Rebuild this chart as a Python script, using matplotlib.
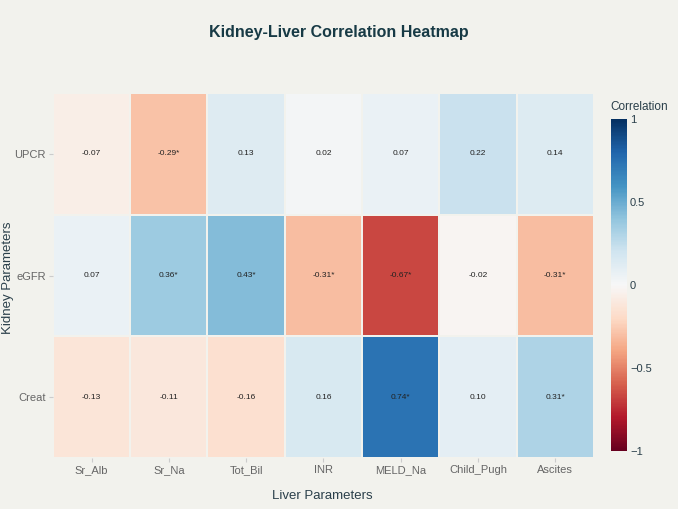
import matplotlib
matplotlib.use("Agg")
import matplotlib.pyplot as plt
import numpy as np

liver = ["Sr_Alb", "Sr_Na", "Tot_Bil", "INR", "MELD_Na", "Child_Pugh", "Ascites"]
kidney = ["UPCR", "eGFR", "Creat"]
upcr = [-0.07, -0.29, 0.13, 0.02, 0.07, 0.22, 0.14]
egfr = [0.07, 0.36, 0.43, -0.31, -0.67, -0.02, -0.31]
creat = [-0.13, -0.11, -0.16, 0.16, 0.74, 0.10, 0.31]
sig_upcr = [0, 1, 0, 0, 0, 0, 0]
sig_egfr = [0, 1, 1, 1, 1, 0, 1]
sig_creat = [0, 0, 0, 0, 1, 0, 1]

vals = np.array([upcr, egfr, creat])
sig = np.array([sig_upcr, sig_egfr, sig_creat])

bg = "#f2f2ed"
plt.rcParams['font.family'] = ['Liberation Sans', 'DejaVu Sans']
fig = plt.figure(figsize=(6.78, 5.09), dpi=100, facecolor=bg)
ax = fig.add_axes([0.078, 0.1, 0.798, 0.717])
ax.set_facecolor(bg)
cmap = plt.get_cmap("RdBu")
mesh = ax.pcolormesh(np.arange(len(liver) + 1) - 0.5, np.arange(len(kidney) + 1) - 0.5, vals,
                     cmap=cmap, vmin=-1, vmax=1, edgecolors=bg, linewidth=0.15)
ax.set_xlim(-0.5, len(liver) - 0.5)
ax.set_ylim(len(kidney) - 0.5, -0.5)
for i in range(len(kidney)):
    for j in range(len(liver)):
        t = f"{vals[i, j]:.2f}" + ("*" if sig[i, j] else "")
        ax.text(j, i, t, ha="center", va="center", fontsize=6, color="#222222")
ax.set_xticks(range(len(liver)))
ax.set_xticklabels(liver)
ax.set_yticks(range(len(kidney)))
ax.set_yticklabels(kidney)
ax.tick_params(axis="both", colors="#cccccc", labelcolor="#666666", labelsize=8, length=3, width=0.8, pad=2)
for s in ax.spines.values():
    s.set_visible(False)
fig.text(0.475, 0.025, "Liver Parameters", ha="center", va="center", fontsize=9.5, color="#2a3f4a")
fig.text(0.012, 0.455, "Kidney Parameters", ha="center", va="center", rotation=90,
         fontsize=9.5, color="#2a3f4a")
fig.text(0.5, 0.937, "Kidney-Liver Correlation Heatmap", ha="center", va="center",
         fontsize=11.5, fontweight="bold", color="#173a45")

cax = fig.add_axes([0.901, 0.114, 0.024, 0.652])
cb = fig.colorbar(mesh, cax=cax, ticks=[-1, -0.5, 0, 0.5, 1])
cb.ax.set_yticklabels(["−1", "−0.5", "0", "0.5", "1"])
cb.outline.set_visible(False)
cb.ax.tick_params(colors="#2a3f4a", labelcolor="#2a3f4a", labelsize=8, length=0, pad=2)
fig.text(0.9, 0.79, "Correlation", ha="left", va="center", fontsize=8.5, color="#2a3f4a")

fig.savefig("out.png", dpi=100, facecolor=bg)
